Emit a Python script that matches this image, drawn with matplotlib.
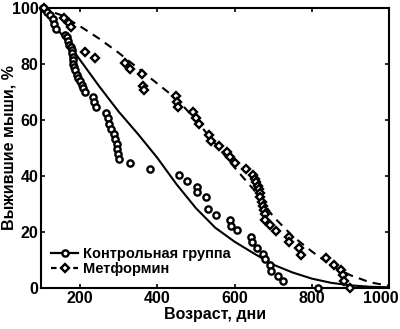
import matplotlib
matplotlib.use('Agg')
import matplotlib.pyplot as plt
import matplotlib.transforms as mtransforms

plt.rcParams['font.family'] = ['Liberation Sans', 'DejaVu Sans']
plt.rcParams['font.weight'] = 'bold'

# Control group: observed survival points (age in days, % alive)
control_age = [105, 116, 123, 130, 132, 139, 162, 166, 170, 173, 177, 179, 179, 182, 183,
               183, 185, 188, 192, 196, 201, 205, 209, 213, 233, 237, 242, 268, 272, 275,
               281, 287, 291, 295, 297, 299, 301, 330, 381, 457, 476, 502, 504, 527, 531,
               553, 587, 592, 607, 643, 645, 658, 673, 678, 691, 695, 712, 725, 815]
control_pct = [100, 98.7, 97.5, 96, 94.3, 92.4, 90.4, 89.5, 88, 86.8, 86, 85, 83.8, 82.6, 81.4,
               80, 79, 77.9, 76, 74.9, 73.8, 72.5, 71.3, 70.1, 68.3, 66.5, 64.5, 62.4, 60.6, 58.4,
               56.7, 54.9, 53.1, 51.3, 49.5, 47.7, 46.1, 44.5, 42.3, 40.4, 38.3, 36.2, 34.3, 32.3, 28.2,
               26.1, 24.3, 22.1, 20.5, 18.3, 16.5, 14.2, 12.1, 10.2, 8.2, 6.2, 4.3, 2.3, 0]

# Metformin group: observed survival points
metf_age = [106, 158, 173, 177, 213, 239, 317, 330, 360, 362, 366, 448, 451, 453, 492,
            501, 509, 534, 540, 560, 580, 587, 601, 630, 648, 652, 656, 660, 663, 665,
            667, 671, 673, 675, 678, 680, 691, 706, 740, 742, 768, 771, 837, 857, 876,
            880, 884, 899]
metf_pct = [100, 96.3, 94.5, 93.1, 84.4, 82, 80.2, 78.3, 76.5, 72, 70.5, 68.5, 66.5, 64.5, 62.7,
            60.6, 58.5, 54.6, 52.4, 50.5, 48.5, 46.6, 44.6, 42.3, 40.4, 39, 37.8, 36.5, 35.2, 33.8,
            32.3, 30.8, 29.4, 27.9, 26.4, 24.3, 22.3, 20.4, 18, 16.5, 14.2, 11.8, 10.5, 8.2, 6.4,
            4.6, 2.3, 0]

# Fitted curves
fit_age = [100, 150, 200, 250, 300, 350, 400, 450, 500, 550, 600, 650, 700, 750, 800, 850, 900, 950, 1000]
control_fit = [100, 91, 81.5, 72, 63, 55, 46.5, 37, 28.5, 21.5, 16.5, 12.3, 8.3, 5.5, 3.3, 1.8, 0.9, 0.4, 0.2]
metf_fit = [100, 97.5, 93.5, 89, 84, 78.5, 73, 67.5, 60, 51.5, 43, 35, 25.5, 18.5, 13, 8, 4.5, 2, 0.7]

fig = plt.figure(figsize=(4.0, 3.29), dpi=100)
ax = fig.add_axes([0.103, 0.125, 0.870, 0.851])

mk = dict(markerfacecolor='white', markeredgecolor='black', markeredgewidth=1.7,
          linestyle='none', clip_on=False, zorder=3)
ax.plot(control_age, control_pct, marker='o', markersize=4.5, **mk)
ax.plot(metf_age, metf_pct, marker='D', markersize=4.0, **mk)

ax.plot(fit_age, control_fit, color='black', lw=1.5, zorder=2)
ax.plot(fit_age, metf_fit, color='black', lw=1.5, dashes=(4, 3), zorder=2)

# legend handles
ax.plot([], [], color='black', lw=1.6, marker='o', markersize=4.5,
        markerfacecolor='white', markeredgewidth=1.7, label='Контрольная группа')
ax.plot([], [], color='black', lw=1.6, dashes=(2.5, 2.5), marker='D', markersize=4.0,
        markerfacecolor='white', markeredgewidth=1.7, label='Метформин')
ax.legend(loc='lower left', frameon=False, fontsize=10.5, handlelength=1.8,
          handletextpad=0.4, labelspacing=0.1, borderaxespad=0.3,
          bbox_to_anchor=(0.0, 0.005))

ax.set_xlim(100, 1000)
ax.set_ylim(0, 100)
ax.set_xticks([200, 400, 600, 800, 1000])
ax.set_yticks([0, 20, 40, 60, 80, 100])
ax.tick_params(direction='in', top=True, right=True, length=3, width=1.2,
               labelsize=11.5, pad=2)
for s in ax.spines.values():
    s.set_linewidth(1.5)

# keep the last x label inside the figure
last = ax.get_xticklabels()[-1]
last.set_transform(last.get_transform() +
                   mtransforms.ScaledTranslation(-8 / 100, 0, fig.dpi_scale_trans))

ax.set_xlabel('Возраст, дни', fontsize=11.5, fontweight='bold', labelpad=1)
ax.set_ylabel('Выжившие мыши, %', fontsize=11.5, fontweight='bold')
ax.yaxis.set_label_coords(-0.072, 0.5)

fig.savefig('out.png', dpi=100)
